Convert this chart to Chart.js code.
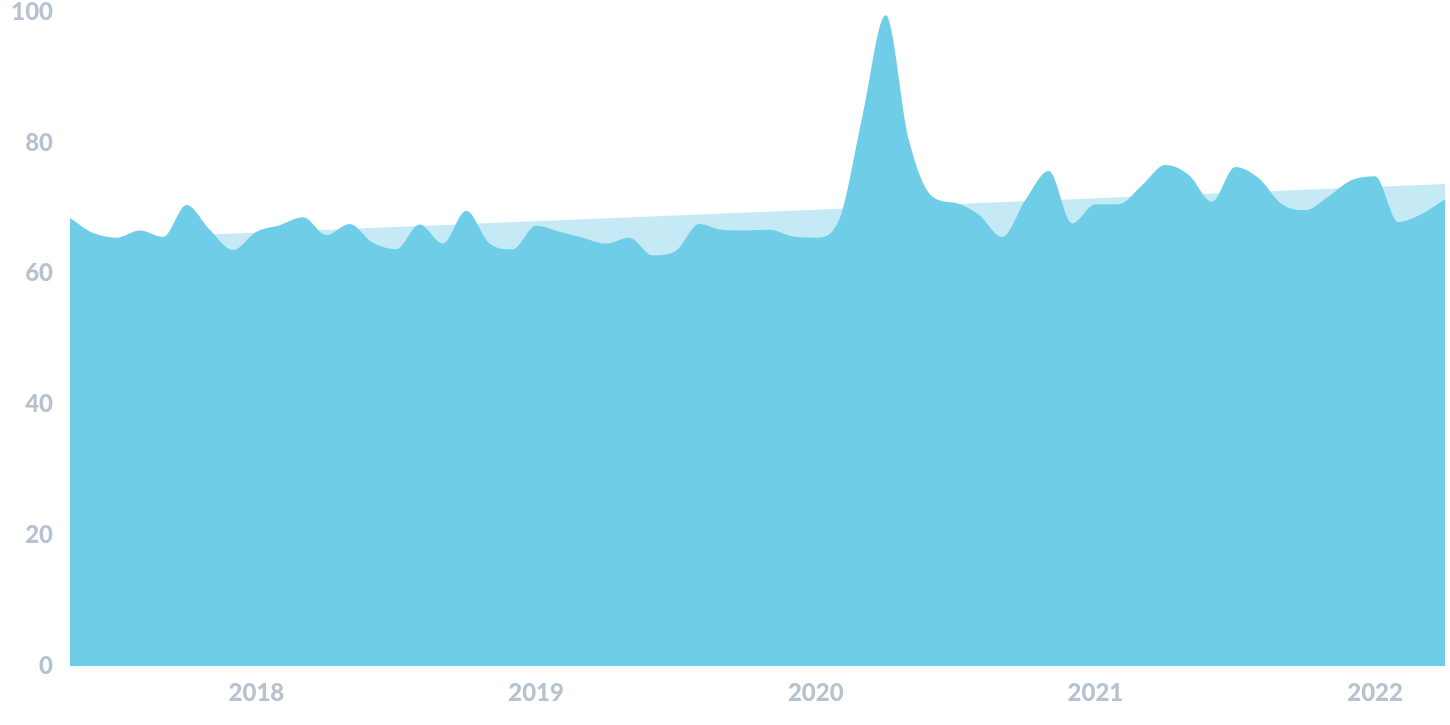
<!DOCTYPE html>
<html>
<head>
<meta charset="utf-8">
<script src="https://cdn.jsdelivr.net/npm/chart.js@4/dist/chart.umd.min.js"></script>
<style>
  html, body { margin: 0; padding: 0; background: #ffffff; }
  #wrap { width: 1450px; height: 725px; position: relative; }
</style>
</head>
<body>
<div id="wrap"><canvas id="c" width="1450" height="725"></canvas></div>
<script>
// Monthly categories, May 2017 – April 2022
const categories = [
  '2017-05','2017-06','2017-07','2017-08','2017-09','2017-10','2017-11','2017-12',
  '2018-01','2018-02','2018-03','2018-04','2018-05','2018-06','2018-07','2018-08','2018-09','2018-10','2018-11','2018-12',
  '2019-01','2019-02','2019-03','2019-04','2019-05','2019-06','2019-07','2019-08','2019-09','2019-10','2019-11','2019-12',
  '2020-01','2020-02','2020-03','2020-04','2020-05','2020-06','2020-07','2020-08','2020-09','2020-10','2020-11','2020-12',
  '2021-01','2021-02','2021-03','2021-04','2021-05','2021-06','2021-07','2021-08','2021-09','2021-10','2021-11','2021-12',
  '2022-01','2022-02','2022-03','2022-04'
];

// Interest values
const interest = [
  68.5, 66.2, 65.5, 66.6, 65.6, 70.5, 66.7, 63.6,
  66.4, 67.4, 68.6, 65.9, 67.6, 64.7, 63.7, 67.5, 64.6, 69.6, 64.6, 63.7,
  67.3, 66.4, 65.5, 64.6, 65.5, 62.8, 63.5, 67.6, 66.7, 66.6, 66.7, 65.7,
  65.5, 68.2, 84.0, 99.5, 80.4, 71.8, 70.8, 69.0, 65.6, 71.3, 75.7, 67.7,
  70.6, 70.6, 73.5, 76.6, 75.1, 71.0, 76.3, 74.6, 70.6, 69.7, 71.8, 74.3,
  74.9, 67.9, 69.1, 71.4
];

// Linear trend (start and end values)
const trendStart = { x: '2017-05', y: 65.1 };
const trendEnd   = { x: '2022-04', y: 73.7 };

const yTicks = [0, 20, 40, 60, 80, 100];
const yearTicks = ['2018', '2019', '2020', '2021', '2022'];

const labelFont = { family: 'Lato', weight: '900', size: 24, lineHeight: 1 };
const labelColor = '#b6c2cf';

// Pin the plot area to the reference frame
const pinArea = {
  id: 'pinArea',
  afterLayout(chart) {
    const a = chart.chartArea;
    const top = 12, bottom = 666;
    const y = chart.scales.y;
    a.top = top; a.bottom = bottom; a.height = bottom - top;
    y.top = top; y.bottom = bottom; y.height = bottom - top;
    y.configure();
    chart.scales.x.top = bottom;
    chart.scales.x.bottom = 725;
  }
};

new Chart(document.getElementById('c'), {
  type: 'line',
  data: {
    labels: categories,
    datasets: [
      {
        label: 'Interest',
        data: interest,
        backgroundColor: '#70cde8',
        borderWidth: 0,
        borderColor: 'rgba(0,0,0,0)',
        pointRadius: 0,
        fill: 'origin',
        cubicInterpolationMode: 'monotone'
      },
      {
        label: 'Trend',
        data: [trendStart, trendEnd],
        backgroundColor: '#c5eaf6',
        borderWidth: 0,
        borderColor: 'rgba(0,0,0,0)',
        pointRadius: 0,
        fill: 'origin',
        tension: 0
      }
    ]
  },
  options: {
    responsive: false,
    animation: false,
    layout: { padding: { top: 0, right: 5, bottom: 0, left: 0 } },
    plugins: { legend: { display: false }, tooltip: { enabled: false } },
    scales: {
      x: {
        type: 'category',
        offset: false,
        grid: { display: false, drawTicks: false },
        border: { display: false },
        ticks: {
          autoSkip: false,
          maxRotation: 0,
          minRotation: 0,
          padding: 15,
          color: labelColor,
          font: labelFont,
          callback: function (value, index) {
            const lab = categories[index];
            const yr = lab.slice(0, 4);
            return (lab.slice(5) === '01' && yearTicks.includes(yr)) ? yr : null;
          }
        },
        afterFit: function (scale) { scale.height = 59; }
      },
      y: {
        min: 0,
        max: 100,
        grid: { display: false, drawTicks: false },
        border: { display: false },
        afterBuildTicks: function (scale) { scale.ticks = yTicks.map(v => ({ value: v })); },
        ticks: {
          padding: 17,
          color: labelColor,
          font: labelFont
        },
        afterFit: function (scale) { scale.width = 70; }
      }
    }
  },
  plugins: [pinArea]
});
</script>
</body>
</html>
